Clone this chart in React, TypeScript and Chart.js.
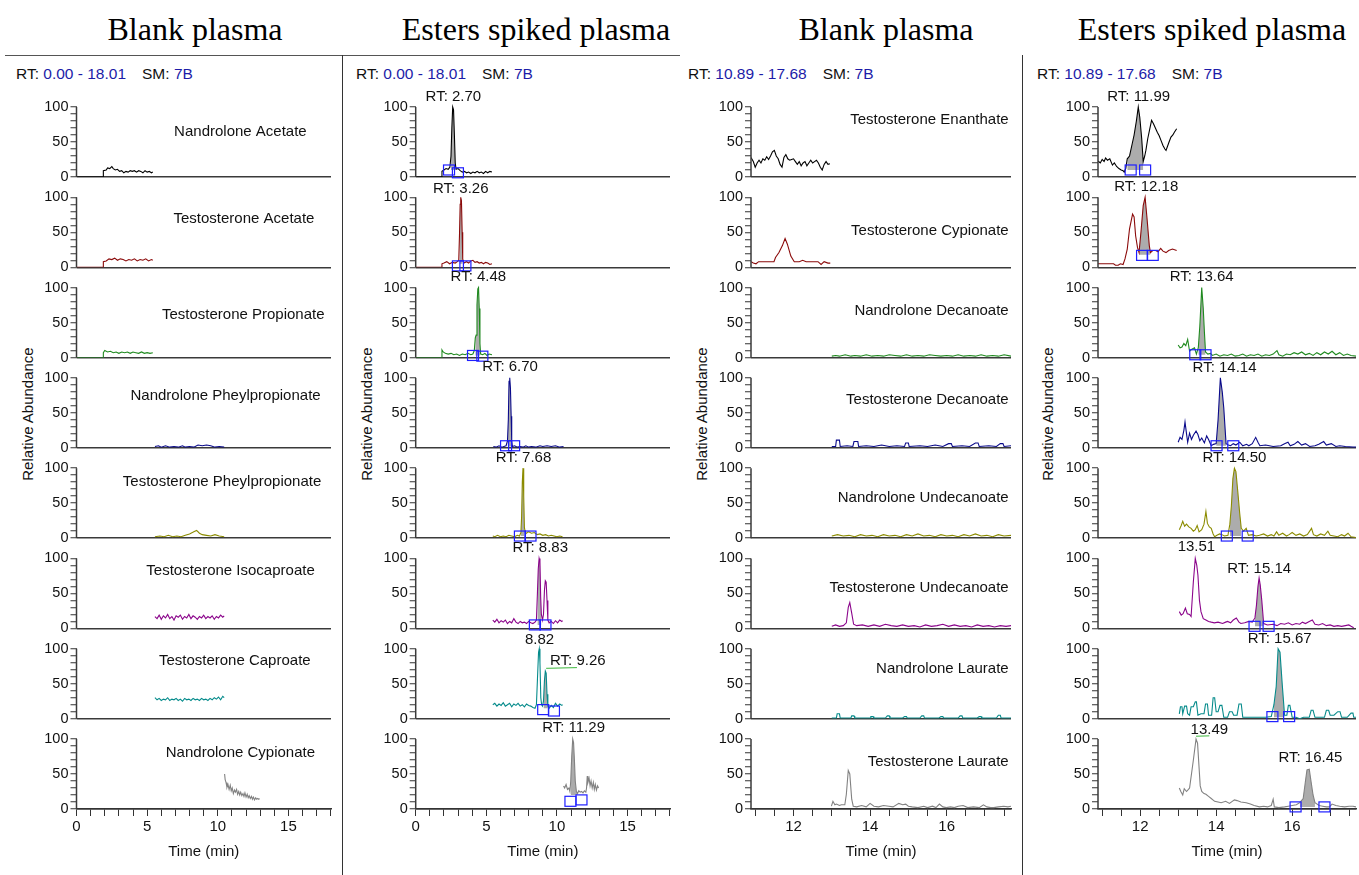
import React, { useEffect, useRef } from 'react';
import { Chart, registerables } from 'chart.js';
Chart.register(...registerables);

type Pt = [number, number];
type Label = { text: string; at: Pt };

const FONT = '"Liberation Sans", Arial, sans-serif';

// ---------- axes ----------
const fullRange: Pt = [0, 18.01];
const lateRange: Pt = [10.89, 17.68];
const fullTicks = [0, 1, 2, 3, 4, 5, 6, 7, 8, 9, 10, 11, 12, 13, 14, 15, 16, 17, 18];
const fullTickLabels = [0, 5, 10, 15];
const lateTicks = [11, 11.5, 12, 12.5, 13, 13.5, 14, 14.5, 15, 15.5, 16, 16.5, 17, 17.5];
const lateTickLabels = [12, 14, 16];
const yTicks = [0, 10, 20, 30, 40, 50, 60, 70, 80, 90, 100];
const yTickLabels = [0, 50, 100];

const rowColors = ['#000000', '#8b0a0a', '#1f8a1f', '#0a0a8b', '#8c8c00', '#8b058b', '#058b8b', '#828282'];

const earlyNames = ['Nandrolone Acetate', 'Testosterone Acetate', 'Testosterone Propionate', 'Nandrolone Pheylpropionate', 'Testosterone Pheylpropionate', 'Testosterone Isocaproate', 'Testosterone Caproate', 'Nandrolone Cypionate'];
const lateNames = ['Testosterone Enanthate', 'Testosterone Cypionate', 'Nandrolone Decanoate', 'Testosterone Decanoate', 'Nandrolone Undecanoate', 'Testosterone Undecanoate', 'Nandrolone Laurate', 'Testosterone Laurate'];
const earlyNameAnchors: Pt[] = [[11.6, 65], [11.85, 69], [11.8, 61], [10.55, 74], [10.3, 81], [10.9, 82], [11.2, 82], [11.6, 80]];
const lateNameAnchors: Pt[] = [[17.62, 82], [17.62, 52], [17.62, 67], [17.62, 69], [17.62, 57], [17.62, 58], [17.62, 71], [17.62, 67]];

// ---------- column 1 : blank plasma, 0.00 - 18.01 ----------
const blankFull_NandroloneAcetate: Pt[] = [[0, 0], [1.88, 0], [1.9, 9], [2.1, 10], [2.2, 13], [2.35, 12], [2.5, 15], [2.6, 12], [2.75, 10], [2.9, 11], [3.05, 8], [3.2, 9], [3.35, 6], [3.5, 8], [3.65, 7], [3.8, 9], [3.95, 8], [4.1, 9], [4.25, 7], [4.4, 9], [4.55, 8], [4.7, 6], [4.85, 9], [5.0, 7], [5.15, 8], [5.3, 6], [5.4, 7]];
const blankFull_TestosteroneAcetate: Pt[] = [[0, 0], [1.88, 0], [1.9, 8], [2.1, 9], [2.3, 12], [2.5, 11], [2.7, 13], [2.9, 10], [3.1, 12], [3.3, 11], [3.5, 9], [3.7, 11], [3.9, 10], [4.1, 12], [4.3, 9], [4.5, 11], [4.7, 10], [4.9, 12], [5.1, 9], [5.3, 11], [5.4, 10]];
const blankFull_TestosteronePropionate: Pt[] = [[0, 0], [1.88, 0], [1.9, 7], [2.0, 10], [2.2, 8], [2.4, 9], [2.6, 7], [2.8, 8], [3.0, 6], [3.2, 8], [3.4, 7], [3.6, 8], [3.8, 6], [4.0, 8], [4.2, 7], [4.4, 6], [4.6, 8], [4.8, 6], [5.0, 7], [5.2, 6], [5.4, 7]];
const blankFull_NandrolonePhenylpropionate: Pt[] = [[5.55, 2], [5.8, 3], [6.0, 1], [6.3, 3], [6.6, 1], [6.9, 2], [7.2, 1], [7.5, 3], [7.7, 1], [8.0, 2], [8.3, 1], [8.6, 4], [8.9, 3], [9.2, 4], [9.5, 3], [9.8, 1], [10.1, 2], [10.45, 1]];
const blankFull_TestosteronePhenylpropionate: Pt[] = [[5.55, 2], [5.9, 3], [6.2, 2], [6.5, 4], [6.8, 2], [7.1, 3], [7.4, 2], [7.7, 4], [8.0, 6], [8.3, 9], [8.5, 11], [8.7, 7], [8.9, 5], [9.2, 4], [9.5, 3], [9.8, 5], [10.1, 3], [10.45, 2]];
const blankFull_TestosteroneIsocaproate: Pt[] = [[5.55, 17], [5.7, 14], [5.85, 19], [6.0, 13], [6.15, 18], [6.3, 15], [6.45, 20], [6.6, 14], [6.75, 17], [6.9, 12], [7.05, 18], [7.2, 16], [7.35, 19], [7.5, 13], [7.65, 17], [7.8, 15], [7.95, 20], [8.1, 14], [8.25, 18], [8.4, 16], [8.55, 13], [8.7, 17], [8.85, 15], [9.0, 19], [9.15, 14], [9.3, 17], [9.45, 15], [9.6, 18], [9.75, 13], [9.9, 17], [10.05, 15], [10.2, 19], [10.35, 16], [10.45, 18]];
const blankFull_TestosteroneCaproate: Pt[] = [[5.55, 30], [5.7, 27], [5.85, 29], [6.0, 26], [6.15, 28], [6.3, 27], [6.45, 30], [6.6, 26], [6.75, 28], [6.9, 27], [7.05, 29], [7.2, 26], [7.35, 28], [7.5, 25], [7.65, 29], [7.8, 27], [7.95, 28], [8.1, 26], [8.25, 29], [8.4, 27], [8.55, 28], [8.7, 26], [8.85, 29], [9.0, 27], [9.15, 28], [9.3, 26], [9.45, 29], [9.6, 27], [9.75, 30], [9.9, 28], [10.05, 31], [10.2, 27], [10.35, 32], [10.45, 30]];
const blankFull_NandroloneCypionate: Pt[] = [[10.48, 50], [10.52, 42], [10.58, 38], [10.65, 31], [10.72, 35], [10.8, 28], [10.88, 34], [10.95, 26], [11.02, 30], [11.1, 22], [11.18, 27], [11.25, 24], [11.33, 28], [11.4, 21], [11.48, 25], [11.55, 20], [11.62, 24], [11.7, 19], [11.78, 22], [11.85, 18], [11.92, 23], [12.0, 17], [12.08, 21], [12.15, 16], [12.22, 19], [12.3, 15], [12.38, 18], [12.45, 14], [12.52, 17], [12.6, 13], [12.68, 16], [12.75, 14], [12.82, 15], [12.9, 14], [12.95, 15]];

// ---------- column 2 : esters spiked plasma, 0.00 - 18.01 ----------
const spikedFull_NandroloneAcetate: Pt[] = [[0, 0], [1.84, 0], [1.86, 8], [2.0, 10], [2.15, 12], [2.3, 11], [2.42, 14], [2.5, 30], [2.56, 70], [2.62, 100], [2.68, 96], [2.74, 60], [2.8, 20], [2.86, 11], [3.0, 12], [3.15, 9], [3.3, 7], [3.45, 8], [3.6, 6], [3.75, 7], [3.9, 5], [4.05, 7], [4.2, 6], [4.35, 8], [4.5, 6], [4.65, 7], [4.8, 5], [4.95, 8], [5.1, 6], [5.25, 8], [5.4, 7]];
const spikedFull_TestosteroneAcetate: Pt[] = [[0, 0], [1.84, 0], [1.86, 5], [2.0, 6], [2.2, 8], [2.4, 5], [2.6, 7], [2.8, 6], [2.95, 8], [3.05, 10], [3.1, 45], [3.15, 90], [3.19, 100], [3.24, 95], [3.29, 50], [3.33, 12], [3.4, 6], [3.6, 8], [3.75, 6], [3.9, 9], [4.05, 10], [4.2, 7], [4.35, 8], [4.5, 6], [4.65, 7], [4.8, 5], [4.95, 7], [5.1, 6], [5.25, 4], [5.4, 5]];
const spikedFull_TestosteronePropionate: Pt[] = [[0, 0], [1.84, 0], [1.86, 11], [1.95, 8], [2.1, 6], [2.3, 5], [2.5, 6], [2.7, 4], [2.9, 5], [3.1, 3], [3.3, 5], [3.5, 4], [3.7, 6], [3.9, 4], [4.05, 5], [4.15, 10], [4.22, 28], [4.28, 32], [4.34, 75], [4.4, 98], [4.45, 100], [4.5, 70], [4.55, 20], [4.6, 5], [4.75, 4], [4.9, 6], [5.05, 3], [5.2, 5], [5.4, 4]];
const spikedFull_NandrolonePhenylpropionate: Pt[] = [[5.5, 2], [5.7, 1], [5.9, 3], [6.1, 1], [6.25, 2], [6.4, 3], [6.5, 10], [6.56, 40], [6.61, 95], [6.66, 100], [6.71, 85], [6.76, 45], [6.8, 10], [6.85, 2], [7.0, 3], [7.2, 1], [7.4, 2], [7.6, 1], [7.8, 3], [8.0, 1], [8.2, 2], [8.5, 1], [8.8, 3], [9.0, 2], [9.3, 3], [9.6, 2], [9.9, 3], [10.2, 1], [10.47, 2]];
const spikedFull_TestosteronePhenylpropionate: Pt[] = [[5.46, 3], [5.6, 2], [5.8, 4], [6.0, 2], [6.2, 3], [6.4, 2], [6.6, 4], [6.8, 3], [7.0, 2], [7.2, 4], [7.35, 3], [7.45, 8], [7.5, 30], [7.55, 80], [7.6, 100], [7.65, 60], [7.7, 15], [7.78, 6], [7.9, 8], [8.0, 9], [8.2, 7], [8.4, 8], [8.6, 5], [8.8, 6], [9.0, 4], [9.2, 5], [9.4, 3], [9.6, 4], [9.8, 3], [10.0, 2], [10.2, 3], [10.4, 2]];
const spikedFull_TestosteroneIsocaproate: Pt[] = [[5.46, 12], [5.6, 9], [5.75, 13], [5.9, 8], [6.05, 11], [6.2, 9], [6.35, 12], [6.5, 7], [6.65, 10], [6.8, 8], [6.95, 14], [7.1, 9], [7.25, 7], [7.4, 10], [7.55, 8], [7.7, 9], [7.85, 7], [8.0, 10], [8.15, 8], [8.3, 7], [8.45, 9], [8.55, 12], [8.62, 50], [8.68, 85], [8.74, 100], [8.8, 95], [8.85, 45], [8.9, 20], [8.98, 12], [9.05, 20], [9.12, 55], [9.18, 68], [9.24, 66], [9.3, 40], [9.36, 12], [9.45, 8], [9.6, 10], [9.75, 7], [9.9, 11], [10.05, 8], [10.2, 12], [10.35, 10], [10.4, 11]];
const spikedFull_TestosteroneCaproate: Pt[] = [[5.46, 20], [5.6, 22], [5.75, 18], [5.9, 21], [6.05, 19], [6.2, 23], [6.35, 18], [6.5, 20], [6.65, 22], [6.8, 17], [6.95, 21], [7.1, 19], [7.25, 22], [7.4, 18], [7.55, 20], [7.7, 17], [7.85, 21], [8.0, 19], [8.15, 18], [8.3, 16], [8.45, 15], [8.55, 20], [8.62, 55], [8.7, 95], [8.75, 100], [8.8, 80], [8.86, 30], [8.92, 20], [8.98, 18], [9.05, 25], [9.12, 55], [9.18, 68], [9.24, 65], [9.3, 35], [9.36, 18], [9.45, 15], [9.6, 19], [9.75, 16], [9.9, 22], [10.05, 18], [10.2, 21], [10.35, 19], [10.4, 20]];
const spikedFull_NandroloneCypionate: Pt[] = [[10.47, 33], [10.55, 30], [10.65, 35], [10.75, 28], [10.85, 30], [10.92, 25], [10.98, 40], [11.05, 75], [11.12, 100], [11.18, 95], [11.24, 70], [11.3, 40], [11.38, 25], [11.46, 22], [11.55, 26], [11.65, 24], [11.75, 25], [11.85, 23], [11.95, 26], [12.05, 24], [12.1, 30], [12.15, 47], [12.2, 38], [12.28, 44], [12.35, 33], [12.42, 40], [12.5, 30], [12.58, 38], [12.65, 28], [12.72, 35], [12.8, 27], [12.88, 33], [12.95, 30]];

const spikedFull_fills: number[][] = [[2.48, 2.82, 10], [3.08, 3.33, 5], [4.2, 4.56, 3], [6.5, 6.85, 2], [7.45, 7.72, 3], [8.58, 8.9, 5], [9.05, 9.36, 15], [10.95, 11.5, 20]];
const spikedFull_boxes: Pt[][] = [[[2.36, 10], [2.99, 6]], [[2.99, 2], [3.52, 2]], [[4.06, 3], [4.72, 2]], [[6.4, 3], [6.97, 3]], [[7.38, 3], [8.13, 3]], [[8.44, 5], [9.19, 5]], [[9.03, 13], [9.79, 11]], [[10.96, 11], [11.74, 13]]];
const spikedFull_labels: Label[][] = [
  [{ text: 'RT: 2.70', at: [2.67, 115] }],
  [{ text: 'RT: 3.26', at: [3.19, 112] }],
  [{ text: 'RT: 4.48', at: [4.44, 115] }],
  [{ text: 'RT: 6.70', at: [6.69, 116] }],
  [{ text: 'RT: 7.68', at: [7.63, 114] }],
  [{ text: 'RT: 8.83', at: [8.82, 115] }],
  [{ text: '8.82', at: [8.77, 112] }, { text: 'RT: 9.26', at: [11.48, 82] }],
  [{ text: 'RT: 11.29', at: [11.18, 116] }],
];
const spikedFull_leaders: Pt[][][] = [[], [], [], [], [], [], [[[9.24, 72], [11.42, 73]]], []];

// ---------- column 3 : blank plasma, 10.89 - 17.68 ----------
const blankLate_TestosteroneEnanthate: Pt[] = [[10.89, 28], [10.95, 22], [11.0, 14], [11.05, 20], [11.1, 24], [11.15, 20], [11.2, 26], [11.25, 24], [11.3, 29], [11.35, 25], [11.4, 30], [11.45, 36], [11.5, 38], [11.55, 30], [11.6, 26], [11.65, 18], [11.7, 14], [11.75, 28], [11.8, 32], [11.85, 26], [11.9, 24], [11.95, 25], [12.0, 26], [12.05, 22], [12.1, 18], [12.15, 22], [12.2, 16], [12.25, 20], [12.3, 22], [12.35, 16], [12.4, 20], [12.45, 24], [12.5, 20], [12.55, 22], [12.6, 24], [12.65, 20], [12.7, 14], [12.75, 10], [12.8, 18], [12.85, 22], [12.9, 18], [12.95, 19]];
const blankLate_TestosteroneCypionate: Pt[] = [[10.89, 8], [10.95, 6], [11.02, 5], [11.09, 8], [11.3, 8], [11.49, 8], [11.53, 14], [11.62, 21], [11.71, 31], [11.78, 41], [11.84, 33], [11.93, 16], [12.02, 8], [12.15, 8], [12.24, 10], [12.33, 8], [12.5, 8], [12.64, 8], [12.72, 4], [12.8, 8], [12.9, 6], [12.96, 6]];
const blankLate_NandroloneDecanoate: Pt[] = [[13.0, 2], [13.1, 3], [13.2, 2], [13.35, 4], [13.5, 2], [13.6, 3], [13.75, 2], [13.9, 4], [14.05, 2], [14.2, 3], [14.35, 2], [14.5, 4], [14.65, 3], [14.8, 2], [14.95, 4], [15.1, 2], [15.25, 3], [15.4, 2], [15.55, 4], [15.7, 3], [15.85, 2], [16.0, 3], [16.15, 2], [16.3, 4], [16.45, 2], [16.6, 3], [16.75, 2], [16.9, 4], [17.05, 2], [17.2, 3], [17.35, 2], [17.5, 4], [17.68, 2]];
const blankLate_TestosteroneDecanoate: Pt[] = [[13.0, 2], [13.1, 2], [13.12, 11], [13.2, 11], [13.22, 2], [13.4, 3], [13.55, 2], [13.58, 9], [13.68, 9], [13.7, 2], [13.9, 3], [14.1, 2], [14.3, 4], [14.5, 2], [14.7, 3], [14.9, 2], [14.93, 7], [15.0, 7], [15.02, 2], [15.3, 3], [15.5, 2], [15.7, 4], [15.9, 2], [16.05, 6], [16.12, 6], [16.15, 2], [16.4, 3], [16.6, 2], [16.75, 7], [16.82, 7], [16.85, 2], [17.1, 3], [17.3, 2], [17.4, 6], [17.47, 6], [17.5, 2], [17.68, 3]];
const blankLate_NandroloneUndecanoate: Pt[] = [[13.0, 3], [13.15, 5], [13.3, 3], [13.45, 4], [13.6, 2], [13.75, 5], [13.9, 3], [14.05, 4], [14.2, 2], [14.35, 5], [14.5, 3], [14.65, 4], [14.8, 2], [14.95, 5], [15.1, 3], [15.25, 6], [15.4, 3], [15.55, 4], [15.7, 2], [15.85, 5], [16.0, 3], [16.15, 4], [16.3, 2], [16.45, 5], [16.6, 3], [16.75, 6], [16.9, 3], [17.05, 4], [17.2, 2], [17.35, 5], [17.5, 3], [17.68, 4]];
const blankLate_TestosteroneUndecanoate: Pt[] = [[13.0, 3], [13.1, 5], [13.2, 3], [13.3, 4], [13.38, 8], [13.43, 30], [13.47, 37], [13.52, 22], [13.57, 6], [13.65, 4], [13.8, 5], [13.95, 3], [14.1, 5], [14.25, 3], [14.4, 6], [14.55, 4], [14.7, 3], [14.85, 5], [15.0, 3], [15.15, 4], [15.3, 2], [15.45, 5], [15.6, 3], [15.75, 4], [15.9, 6], [16.05, 3], [16.2, 5], [16.35, 3], [16.5, 4], [16.65, 2], [16.8, 5], [16.95, 3], [17.1, 4], [17.25, 2], [17.4, 4], [17.55, 3], [17.68, 4]];
const blankLate_NandroloneLaurate: Pt[] = [[13.0, 1], [13.12, 1], [13.14, 7], [13.2, 7], [13.22, 1], [13.5, 1], [13.52, 4], [13.58, 4], [13.6, 1], [14.0, 1], [14.02, 3], [14.08, 3], [14.1, 1], [14.4, 1], [14.45, 4], [14.5, 4], [14.52, 1], [14.85, 1], [14.9, 3], [14.95, 3], [14.97, 1], [15.3, 1], [15.35, 4], [15.4, 4], [15.42, 1], [15.8, 1], [15.85, 3], [15.9, 3], [15.92, 1], [16.3, 1], [16.35, 4], [16.4, 4], [16.42, 1], [16.8, 1], [16.85, 3], [16.9, 3], [16.92, 1], [17.3, 1], [17.35, 5], [17.4, 5], [17.42, 1], [17.68, 1]];
const blankLate_TestosteroneLaurate: Pt[] = [[12.99, 4], [13.03, 11], [13.08, 6], [13.12, 7], [13.2, 5], [13.25, 6], [13.34, 6], [13.38, 21], [13.43, 55], [13.47, 50], [13.52, 14], [13.56, 4], [13.65, 3], [13.78, 5], [13.9, 3], [14.0, 8], [14.1, 4], [14.22, 3], [14.35, 5], [14.49, 4], [14.6, 3], [14.75, 8], [14.85, 6], [14.93, 7], [15.0, 4], [15.1, 3], [15.25, 2], [15.4, 4], [15.5, 2], [15.63, 4], [15.72, 2], [15.81, 7], [15.9, 3], [15.99, 2], [16.1, 3], [16.2, 2], [16.3, 4], [16.43, 5], [16.55, 2], [16.7, 3], [16.85, 2], [16.96, 6], [17.05, 3], [17.15, 2], [17.23, 2], [17.35, 3], [17.49, 4], [17.6, 3], [17.68, 4]];

// ---------- column 4 : esters spiked plasma, 10.89 - 17.68 ----------
const spikedLate_TestosteroneEnanthate: Pt[] = [[10.89, 23], [10.95, 20], [11.0, 25], [11.05, 22], [11.09, 27], [11.14, 24], [11.2, 26], [11.27, 17], [11.32, 20], [11.38, 15], [11.44, 12], [11.5, 10], [11.55, 9], [11.58, 7], [11.62, 12], [11.66, 26], [11.72, 30], [11.78, 45], [11.84, 60], [11.9, 80], [11.95, 100], [11.99, 85], [12.04, 55], [12.08, 22], [12.12, 30], [12.15, 38], [12.2, 55], [12.25, 68], [12.3, 81], [12.35, 76], [12.4, 70], [12.45, 64], [12.5, 59], [12.55, 52], [12.6, 45], [12.65, 40], [12.68, 38], [12.72, 44], [12.76, 50], [12.81, 57], [12.86, 60], [12.9, 64], [12.96, 69]];
const spikedLate_TestosteroneCypionate: Pt[] = [[10.89, 5], [11.1, 5], [11.3, 5], [11.35, 3], [11.42, 3], [11.48, 5], [11.55, 4], [11.6, 12], [11.66, 26], [11.72, 55], [11.8, 76], [11.84, 72], [11.88, 45], [11.93, 28], [11.97, 21], [12.02, 50], [12.08, 88], [12.13, 100], [12.18, 70], [12.24, 31], [12.27, 21], [12.33, 24], [12.41, 24], [12.47, 22], [12.54, 27], [12.6, 23], [12.68, 21], [12.75, 24], [12.85, 26], [12.96, 24]];
const spikedLate_NandroloneDecanoate: Pt[] = [[13.0, 18], [13.05, 14], [13.1, 15], [13.15, 20], [13.2, 17], [13.25, 26], [13.3, 9], [13.36, 12], [13.43, 14], [13.48, 5], [13.53, 14], [13.57, 45], [13.62, 100], [13.66, 70], [13.69, 37], [13.72, 8], [13.78, 5], [13.85, 6], [13.9, 3], [14.0, 5], [14.1, 2], [14.2, 4], [14.3, 3], [14.4, 5], [14.5, 2], [14.6, 3], [14.7, 5], [14.8, 2], [14.9, 4], [15.0, 3], [15.1, 5], [15.2, 2], [15.3, 4], [15.4, 3], [15.5, 5], [15.6, 10], [15.65, 4], [15.75, 2], [15.85, 5], [15.95, 4], [16.05, 7], [16.15, 5], [16.25, 8], [16.35, 4], [16.45, 6], [16.55, 3], [16.65, 7], [16.75, 4], [16.85, 8], [16.95, 5], [17.05, 9], [17.15, 4], [17.25, 7], [17.35, 3], [17.45, 5], [17.55, 3], [17.68, 2]];
const spikedLate_TestosteroneDecanoate: Pt[] = [[13.0, 8], [13.05, 15], [13.1, 12], [13.15, 25], [13.18, 37], [13.22, 20], [13.25, 8], [13.3, 21], [13.35, 12], [13.4, 18], [13.47, 24], [13.52, 19], [13.57, 10], [13.62, 14], [13.69, 7], [13.75, 17], [13.8, 12], [13.87, 3], [13.93, 5], [14.0, 6], [14.05, 40], [14.11, 100], [14.16, 80], [14.2, 57], [14.26, 6], [14.32, 4], [14.38, 3], [14.45, 6], [14.52, 4], [14.62, 8], [14.7, 3], [14.8, 5], [14.86, 3], [14.95, 6], [15.04, 15], [15.1, 8], [15.15, 3], [15.3, 4], [15.5, 2], [15.7, 3], [15.8, 6], [15.89, 8], [15.95, 3], [16.05, 5], [16.15, 9], [16.25, 4], [16.35, 6], [16.46, 2], [16.6, 3], [16.7, 5], [16.83, 9], [16.9, 4], [17.03, 6], [17.15, 2], [17.25, 3], [17.4, 2], [17.6, 1], [17.68, 1]];
const spikedLate_NandroloneUndecanoate: Pt[] = [[13.03, 12], [13.08, 18], [13.12, 24], [13.17, 17], [13.22, 20], [13.28, 16], [13.34, 14], [13.4, 10], [13.45, 12], [13.5, 18], [13.55, 9], [13.62, 12], [13.68, 20], [13.73, 38], [13.77, 21], [13.82, 16], [13.87, 14], [13.92, 6], [13.96, 2], [14.02, 4], [14.09, 6], [14.15, 5], [14.22, 3], [14.31, 4], [14.36, 20], [14.4, 46], [14.44, 85], [14.48, 100], [14.52, 95], [14.57, 66], [14.62, 35], [14.66, 14], [14.72, 10], [14.79, 14], [14.85, 4], [14.95, 5], [15.05, 3], [15.14, 4], [15.25, 6], [15.35, 3], [15.45, 5], [15.52, 3], [15.59, 9], [15.65, 4], [15.75, 7], [15.85, 3], [15.92, 5], [16.0, 8], [16.1, 4], [16.2, 6], [16.3, 3], [16.4, 5], [16.51, 14], [16.56, 5], [16.65, 3], [16.75, 6], [16.85, 4], [16.94, 10], [17.0, 4], [17.1, 3], [17.2, 2], [17.3, 5], [17.38, 3], [17.47, 7], [17.55, 2], [17.68, 1]];
const spikedLate_TestosteroneUndecanoate: Pt[] = [[13.03, 24], [13.08, 19], [13.13, 21], [13.19, 29], [13.24, 21], [13.3, 20], [13.34, 17], [13.4, 67], [13.45, 100], [13.49, 90], [13.52, 76], [13.56, 40], [13.6, 24], [13.66, 14], [13.73, 12], [13.8, 10], [13.87, 9], [13.95, 8], [14.05, 9], [14.17, 7], [14.25, 9], [14.3, 10], [14.38, 8], [14.45, 12], [14.53, 15], [14.6, 9], [14.65, 7], [14.75, 8], [14.86, 10], [14.95, 9], [15.02, 15], [15.06, 33], [15.1, 60], [15.13, 72], [15.16, 62], [15.2, 40], [15.25, 7], [15.35, 5], [15.5, 6], [15.6, 4], [15.7, 7], [15.8, 6], [15.9, 8], [16.0, 5], [16.1, 7], [16.2, 6], [16.27, 9], [16.35, 7], [16.45, 10], [16.53, 12], [16.6, 6], [16.7, 5], [16.8, 7], [16.9, 4], [17.0, 5], [17.1, 3], [17.2, 4], [17.3, 3], [17.4, 4], [17.49, 5], [17.55, 3], [17.62, 1]];
const spikedLate_NandroloneLaurate: Pt[] = [[13.03, 7], [13.06, 17], [13.1, 17], [13.12, 7], [13.17, 18], [13.22, 18], [13.25, 7], [13.3, 5], [13.34, 17], [13.4, 17], [13.45, 24], [13.48, 24], [13.52, 5], [13.6, 7], [13.68, 7], [13.72, 21], [13.77, 21], [13.8, 5], [13.88, 5], [13.92, 30], [13.96, 30], [14.0, 10], [14.05, 10], [14.1, 19], [14.15, 19], [14.2, 2], [14.3, 2], [14.35, 10], [14.42, 10], [14.46, 5], [14.55, 5], [14.6, 21], [14.66, 21], [14.7, 2], [14.9, 2], [15.1, 2], [15.3, 2], [15.45, 3], [15.52, 20], [15.58, 46], [15.63, 100], [15.68, 95], [15.74, 48], [15.8, 5], [15.86, 5], [15.9, 19], [15.94, 19], [16.0, 2], [16.1, 2], [16.2, 0], [16.3, 2], [16.45, 2], [16.5, 12], [16.55, 12], [16.6, 2], [16.75, 2], [16.85, 2], [16.9, 12], [16.96, 12], [17.0, 5], [17.1, 5], [17.2, 10], [17.26, 10], [17.3, 2], [17.45, 2], [17.55, 8], [17.6, 8], [17.62, 2], [17.68, 2]];
const spikedLate_TestosteroneLaurate: Pt[] = [[13.03, 30], [13.07, 25], [13.12, 20], [13.16, 29], [13.22, 25], [13.27, 28], [13.3, 30], [13.4, 70], [13.47, 100], [13.51, 94], [13.58, 33], [13.62, 25], [13.68, 22], [13.73, 21], [13.8, 18], [13.87, 15], [13.96, 11], [14.05, 10], [14.13, 9], [14.25, 11], [14.35, 8], [14.48, 13], [14.55, 12], [14.65, 10], [14.79, 9], [14.9, 7], [15.0, 5], [15.14, 3], [15.25, 4], [15.35, 3], [15.45, 5], [15.5, 14], [15.53, 3], [15.65, 2], [15.8, 3], [15.9, 4], [16.0, 5], [16.11, 6], [16.2, 9], [16.29, 15], [16.35, 40], [16.39, 56], [16.45, 57], [16.5, 38], [16.55, 20], [16.6, 9], [16.71, 5], [16.8, 4], [16.9, 3], [16.98, 3], [17.05, 7], [17.15, 5], [17.25, 4], [17.38, 3], [17.5, 4], [17.6, 4], [17.68, 3]];

const spikedLate_fills: number[][] = [[11.66, 12.08, 10], [11.97, 12.27, 18], [13.53, 13.72, 4], [14.0, 14.26, 3], [14.36, 14.66, 3], [15.02, 15.25, 3], [15.52, 15.8, 2], [16.2, 16.65, 3]];
const spikedLate_boxes: Pt[][] = [[[11.75, 10], [12.13, 10]], [[12.05, 17], [12.33, 17]], [[13.45, 4], [13.72, 4]], [[14.01, 3], [14.45, 3]], [[14.28, 3], [14.83, 3]], [[15.01, 3], [15.38, 3]], [[15.48, 3], [15.92, 3]], [[16.09, 3], [16.85, 3]]];
const spikedLate_labels: Label[][] = [
  [{ text: 'RT: 11.99', at: [11.96, 114] }],
  [{ text: 'RT: 12.18', at: [12.16, 115] }],
  [{ text: 'RT: 13.64', at: [13.62, 116] }],
  [{ text: 'RT: 14.14', at: [14.22, 115] }],
  [{ text: 'RT: 14.50', at: [14.48, 114] }],
  [{ text: '13.51', at: [13.48, 116] }, { text: 'RT: 15.14', at: [15.13, 85] }],
  [{ text: 'RT: 15.67', at: [15.67, 114] }],
  [{ text: '13.49', at: [13.82, 113] }, { text: 'RT: 16.45', at: [16.48, 73] }],
];
const spikedLate_leaders: Pt[][][] = [[], [], [], [], [], [], [], [[[13.47, 104], [13.82, 104.5]]]];

// ---------- layout ----------
const CANVAS_TOP = 56;
const CANVAS_H = 819;
const PLOT_TOP = 86.7;
const PLOT_BOTTOM = 809;

interface ColumnSpec {
  left: number; width: number; axisX: number; plotRight: number;
  range: Pt; ticks: number[]; tickLabels: number[];
  traces: Pt[][];
  fills: (number[] | null)[];
  boxes: Pt[][];
  labels: Label[][];
  leaders: Pt[][][];
  names: string[] | null;
  nameAnchors: Pt[];
  nameAlign: 'center' | 'right';
}

const empty8 = <T,>(): T[][] => [[], [], [], [], [], [], [], []];

const columns: ColumnSpec[] = [
  {
    left: 5, width: 336, axisX: 76.5, plotRight: 331, range: fullRange, ticks: fullTicks, tickLabels: fullTickLabels,
    traces: [blankFull_NandroloneAcetate, blankFull_TestosteroneAcetate, blankFull_TestosteronePropionate, blankFull_NandrolonePhenylpropionate, blankFull_TestosteronePhenylpropionate, blankFull_TestosteroneIsocaproate, blankFull_TestosteroneCaproate, blankFull_NandroloneCypionate],
    fills: [null, null, null, null, null, null, null, null], boxes: empty8<Pt>(), labels: empty8<Label>(), leaders: empty8<Pt[]>(),
    names: earlyNames, nameAnchors: earlyNameAnchors, nameAlign: 'center',
  },
  {
    left: 344, width: 336, axisX: 415.7, plotRight: 670, range: fullRange, ticks: fullTicks, tickLabels: fullTickLabels,
    traces: [spikedFull_NandroloneAcetate, spikedFull_TestosteroneAcetate, spikedFull_TestosteronePropionate, spikedFull_NandrolonePhenylpropionate, spikedFull_TestosteronePhenylpropionate, spikedFull_TestosteroneIsocaproate, spikedFull_TestosteroneCaproate, spikedFull_NandroloneCypionate],
    fills: spikedFull_fills, boxes: spikedFull_boxes, labels: spikedFull_labels, leaders: spikedFull_leaders,
    names: null, nameAnchors: [], nameAlign: 'center',
  },
  {
    left: 681, width: 340, axisX: 751, plotRight: 1011, range: lateRange, ticks: lateTicks, tickLabels: lateTickLabels,
    traces: [blankLate_TestosteroneEnanthate, blankLate_TestosteroneCypionate, blankLate_NandroloneDecanoate, blankLate_TestosteroneDecanoate, blankLate_NandroloneUndecanoate, blankLate_TestosteroneUndecanoate, blankLate_NandroloneLaurate, blankLate_TestosteroneLaurate],
    fills: [null, null, null, null, null, null, null, null], boxes: empty8<Pt>(), labels: empty8<Label>(), leaders: empty8<Pt[]>(),
    names: lateNames, nameAnchors: lateNameAnchors, nameAlign: 'right',
  },
  {
    left: 1024, width: 335, axisX: 1098, plotRight: 1356, range: lateRange, ticks: lateTicks, tickLabels: lateTickLabels,
    traces: [spikedLate_TestosteroneEnanthate, spikedLate_TestosteroneCypionate, spikedLate_NandroloneDecanoate, spikedLate_TestosteroneDecanoate, spikedLate_NandroloneUndecanoate, spikedLate_TestosteroneUndecanoate, spikedLate_NandroloneLaurate, spikedLate_TestosteroneLaurate],
    fills: spikedLate_fills, boxes: spikedLate_boxes, labels: spikedLate_labels, leaders: spikedLate_leaders,
    names: null, nameAnchors: [], nameAlign: 'center',
  },
];

function buildChart(canvas: HTMLCanvasElement, spec: ColumnSpec): Chart {
  const scales: any = {
    x: {
      type: 'linear', position: 'bottom', min: spec.range[0], max: spec.range[1], bounds: 'data',
      afterBuildTicks: (s: any) => { s.ticks = spec.ticks.map((v) => ({ value: v })); },
      afterFit: (s: any) => { s.height = 60; },
      ticks: {
        autoSkip: false, maxRotation: 0, padding: 2, color: '#111', font: { family: FONT, size: 15 },
        callback: (v: any) => (spec.tickLabels.includes(Number(v)) ? String(v) : ''),
      },
      grid: { drawOnChartArea: false, drawTicks: true, tickLength: 7, tickColor: '#333', tickWidth: 1 },
      border: { display: true, color: '#333', width: 1.5 },
      title: { display: true, text: 'Time (min)', color: '#111', font: { family: FONT, size: 15 }, padding: { top: 0, bottom: 8 } },
    },
  };
  // stacked axes are laid out bottom-up in definition order, so define the bottom row first
  for (let r = 7; r >= 0; r--) {
    scales['y' + r] = {
      type: 'linear', position: 'left', stack: 'rows', stackWeight: 1, min: 0, max: 129, bounds: 'data',
      afterBuildTicks: (s: any) => { s.ticks = yTicks.map((v) => ({ value: v })); },
      afterFit: (s: any) => { s.width = spec.axisX - spec.left; },
      ticks: {
        autoSkip: false, padding: 2, color: '#111', font: { family: FONT, size: 14.5 },
        callback: (v: any) => (yTickLabels.includes(Number(v)) ? String(v) : ''),
      },
      grid: {
        drawOnChartArea: true, drawTicks: true, tickLength: 6, tickColor: '#333', tickWidth: 1, lineWidth: 1.5,
        color: (ctx: any) => (ctx.tick && ctx.tick.value === 0 ? '#3a3a3a' : 'rgba(0,0,0,0)'),
      },
      border: { display: false },
    };
  }

  const datasets: any[] = [];
  spec.traces.forEach((tr, r) => {
    datasets.push({
      data: tr.map(([x, y]) => ({ x, y })), xAxisID: 'x', yAxisID: 'y' + r,
      borderColor: rowColors[r], borderWidth: 1.1, pointRadius: 0, tension: 0, fill: false, order: 0,
    });
    const f = spec.fills[r];
    if (f) {
      datasets.push({
        data: tr.filter(([x]) => x >= f[0] && x <= f[1]).map(([x, y]) => ({ x, y })), xAxisID: 'x', yAxisID: 'y' + r,
        borderWidth: 0, borderColor: 'rgba(0,0,0,0)', pointRadius: 0, tension: 0,
        fill: { value: f[2] }, backgroundColor: '#acacac', order: 1,
      });
    }
  });

  const overlay = {
    id: 'overlay',
    afterDraw(chart: any) {
      const ctx = chart.ctx as CanvasRenderingContext2D;
      const xs = chart.scales.x;
      ctx.save();
      for (let r = 0; r < 8; r++) {
        const ys = chart.scales['y' + r];
        const px = (t: number) => xs.getPixelForValue(t);
        const py = (v: number) => ys.getPixelForValue(v);
        // vertical axis line 0..100
        ctx.strokeStyle = '#3a3a3a';
        ctx.lineWidth = 1.5;
        ctx.beginPath();
        ctx.moveTo(chart.chartArea.left, py(100));
        ctx.lineTo(chart.chartArea.left, py(0));
        ctx.stroke();
        // leader lines
        ctx.strokeStyle = '#3cb83c';
        ctx.lineWidth = 1;
        for (const ln of spec.leaders[r]) {
          ctx.beginPath();
          ctx.moveTo(px(ln[0][0]), py(ln[0][1]));
          ctx.lineTo(px(ln[1][0]), py(ln[1][1]));
          ctx.stroke();
        }
        // boxes
        ctx.strokeStyle = '#1f1fff';
        ctx.lineWidth = 1.2;
        for (const [t, v] of spec.boxes[r]) {
          ctx.strokeRect(px(t) - 5.5, py(v) - 5, 11, 10);
        }
        // RT labels
        ctx.fillStyle = '#111';
        ctx.font = `15px ${FONT}`;
        ctx.textAlign = 'center';
        ctx.textBaseline = 'middle';
        for (const lb of spec.labels[r]) {
          ctx.fillText(lb.text, px(lb.at[0]), py(lb.at[1]));
        }
        // compound names
        if (spec.names) {
          ctx.textAlign = spec.nameAlign;
          const [t, v] = spec.nameAnchors[r];
          ctx.fillText(spec.names[r], px(t), py(v));
        }
      }
      ctx.restore();
    },
  };

  return new Chart(canvas, {
    type: 'line',
    data: { datasets },
    options: {
      animation: false,
      responsive: false,
      devicePixelRatio: 1,
      events: [],
      layout: { padding: { top: PLOT_TOP - CANVAS_TOP, bottom: CANVAS_TOP + CANVAS_H - PLOT_BOTTOM - 60, left: 0, right: spec.left + spec.width - spec.plotRight } },
      plugins: { legend: { display: false }, tooltip: { enabled: false } },
      scales,
    } as any,
    plugins: [overlay],
  });
}

function ColumnChart({ spec }: { spec: ColumnSpec }) {
  const ref = useRef<HTMLCanvasElement>(null);
  useEffect(() => {
    const chart = buildChart(ref.current as HTMLCanvasElement, spec);
    return () => chart.destroy();
  }, [spec]);
  return (
    <canvas
      ref={ref}
      width={spec.width}
      height={CANVAS_H}
      style={{ position: 'absolute', left: spec.left, top: CANVAS_TOP, width: spec.width, height: CANVAS_H }}
    />
  );
}

const titles = [
  { text: 'Blank plasma', cx: 195 },
  { text: 'Esters spiked plasma', cx: 536 },
  { text: 'Blank plasma', cx: 886 },
  { text: 'Esters spiked plasma', cx: 1212 },
];
const headers = [
  { x: 16, range: '0.00 - 18.01' },
  { x: 356, range: '0.00 - 18.01' },
  { x: 688, range: '10.89 - 17.68' },
  { x: 1037, range: '10.89 - 17.68' },
];
const yTitleX = [28, 367, 702, 1048];

export default function App() {
  const blue = '#1c1ca8';
  return (
    <div style={{ position: 'absolute', left: 0, top: 0, width: 1359, height: 875, background: '#fff', overflow: 'hidden' }}>
      {titles.map((t, i) => (
        <div key={'t' + i} style={{ position: 'absolute', left: t.cx - 200, top: 10, width: 400, textAlign: 'center', fontFamily: '"Liberation Serif", "Times New Roman", serif', fontSize: 32, lineHeight: '38px', color: '#000' }}>
          {t.text}
        </div>
      ))}
      <div style={{ position: 'absolute', left: 5, top: 55, width: 675, height: 1, background: '#555' }} />
      <div style={{ position: 'absolute', left: 342, top: 55, width: 1, height: 820, background: '#333' }} />
      <div style={{ position: 'absolute', left: 1022, top: 55, width: 1, height: 820, background: '#333' }} />
      {headers.map((h, i) => (
        <div key={'h' + i} style={{ position: 'absolute', left: h.x, top: 65, fontFamily: FONT, fontSize: 15.5, lineHeight: '18px', color: '#111', whiteSpace: 'pre' }}>
          {'RT: '}<span style={{ color: blue }}>{h.range}</span><span style={{ marginLeft: 16 }}>{'SM: '}</span><span style={{ color: blue }}>7B</span>
        </div>
      ))}
      {yTitleX.map((x, i) => (
        <div key={'y' + i} style={{ position: 'absolute', left: x - 100, top: 414 - 10, width: 200, height: 20, textAlign: 'center', fontFamily: FONT, fontSize: 15, lineHeight: '20px', color: '#111', transform: 'rotate(-90deg)' }}>
          Relative Abundance
        </div>
      ))}
      {columns.map((c, i) => (
        <ColumnChart key={'c' + i} spec={c} />
      ))}
    </div>
  );
}
